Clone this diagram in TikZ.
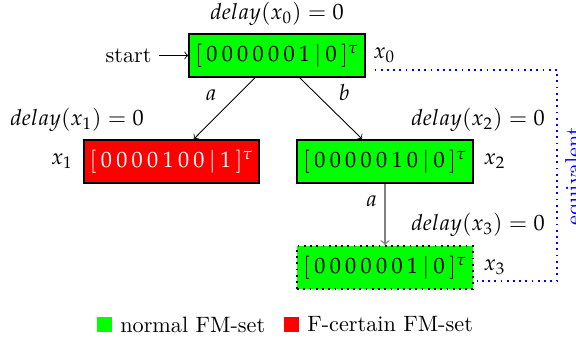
\documentclass[tikz,border=0pt]{standalone}
\usepackage{mathpazo}
\usetikzlibrary{positioning}
\definecolor{fmgreen}{RGB}{0,255,0}
\definecolor{fmred}{RGB}{255,0,0}
\definecolor{eqblue}{RGB}{0,0,255}

\begin{document}
\begin{tikzpicture}[
  x=0.45pt, y=-0.45pt,
  fmset/.style={draw=black, thick, fill=#1, minimum width=79pt,
    minimum height=19.4pt, inner xsep=1pt},
  edge/.style={->},
  equiv/.style={draw=eqblue, dotted, thick},
  legbox/.style={fill=#1, minimum size=6.75pt, inner sep=0pt}
]
  \useasboundingbox (0,0) rectangle (576,347);

  % FM-sets
  \node[fmset=fmgreen] (x0) at (277,55.5) {$[\:0\:0\:0\:0\:0\:0\:1\:|\:0\:]^{\tau}$};
  \node[fmset=fmred, text=white] (x1) at (171.5,161.5) {$[\:0\:0\:0\:0\:1\:0\:0\:|\:1\:]^{\tau}$};
  \node[fmset=fmgreen] (x2) at (385,161.5) {$[\:0\:0\:0\:0\:0\:1\:0\:|\:0\:]^{\tau}$};
  \node[fmset=fmgreen, dotted] (x3) at (385,267.5) {$[\:0\:0\:0\:0\:0\:0\:1\:|\:0\:]^{\tau}$};

  % Names and delays
  \node[right=0pt of x0] (n0) {$x_0$};
  \node[left=1pt of x1] (n1) {$x_1$};
  \node[right=1pt of x2] (n2) {$x_2$};
  \node[right=1pt of x3] (n3) {$x_3$};
  \node (d0) at (277,14) {$delay(x_0) = 0$};
  \node (d1) at (77,120) {$delay(x_1) = 0$};
  \node (d2) at (478,120) {$delay(x_2) = 0$};
  \node (d3) at (478,225) {$delay(x_3) = 0$};

  % Transitions
  \node[left=13pt of x0] (init) {start};
  \draw[edge] (init) -- (x0);
  \draw[edge] (x0) -- node[above left] {$a$} (x1);
  \draw[edge] (x0) -- node[above right] {$b$} (x2);
  \draw[edge, gray, semithick] (x2) -- node[above left, text=black] {$a$} (x3);

  % Equivalence
  \coordinate (eqA) at ([xshift=4pt,yshift=-6.5pt]x0.east);
  \coordinate (eqB) at ([xshift=1.5pt,yshift=-6pt]x3.east);
  \coordinate (eqR) at (557,176);
  \draw[equiv] (eqA) -| (eqR) node[rotate=90, anchor=north, text=eqblue] (eqtxt) {equivalent} |- (eqB);

  % Legend
  \node[legbox=fmgreen] (lgG) at (104.5,324.5) {};
  \node[right=0pt of lgG] (lgGtxt) {normal FM-set};
  \node[legbox=fmred] (lgR) at (291.5,324.5) {};
  \node[right=0pt of lgR] (lgRtxt) {F-certain FM-set};
\end{tikzpicture}
\end{document}
